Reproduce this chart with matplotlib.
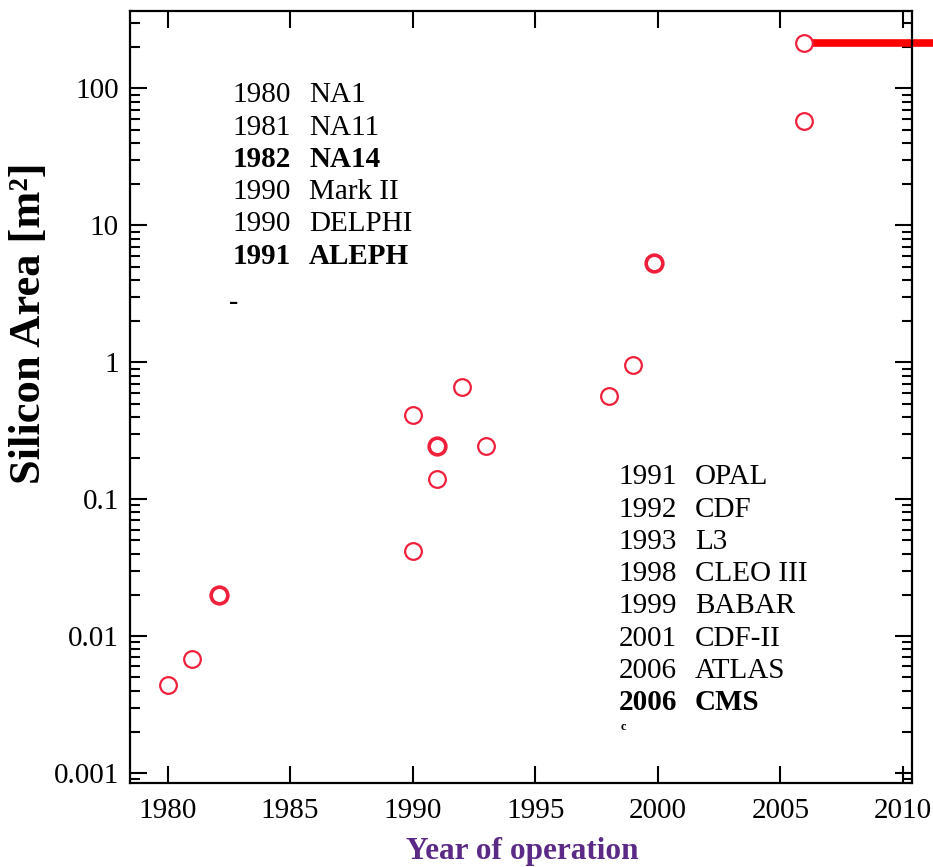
import matplotlib
matplotlib.use("Agg")
import numpy as np
from matplotlib import pyplot as plt
from matplotlib.ticker import LogLocator, NullFormatter, FixedLocator

# data
years = [1980, 1981, 1982.1, 1990, 1990, 1991, 1991, 1992, 1993, 1998, 1999, 1999.85, 2005.95, 2005.95]
areas = [0.0044, 0.0068, 0.020, 0.042, 0.41, 0.245, 0.14, 0.66, 0.245, 0.57, 0.95, 5.3, 58, 215]
heavy = [False, False, True, False, False, True, False, False, False, False, False, True, False, False]

left_years = ["1980", "1981", "1982", "1990", "1990", "1991"]
left_names = ["NA1", "NA11", "NA14", "Mark II", "DELPHI", "ALEPH"]
left_bold = [False, False, True, False, False, True]

right_years = ["1991", "1992", "1993", "1998", "1999", "2001", "2006", "2006"]
right_names = ["OPAL", "CDF", "L3", "CLEO III", "BABAR", "CDF-II", "ATLAS", "CMS"]
right_bold = [False, False, False, False, False, False, False, True]

xticks = [1980, 1985, 1990, 1995, 2000, 2005, 2010]
yticks = [0.001, 0.01, 0.1, 1, 10, 100]
ytick_labels = ["0.001", "0.01", "0.1", "1", "10", "100"]

# red bar off the top point
bar_x = [2005.95, 2011.3]
bar_y = [215, 215]

plt.rcParams["font.family"] = ["Liberation Serif", "DejaVu Serif"]
W, H = 933, 867
fig = plt.figure(figsize=(W / 100, H / 100), dpi=100)
ax = fig.add_axes([130 / W, 1 - 783 / H, 782 / W, 772 / H])

ax.set_yscale("log")
ax.set_xlim(1978.47, 2010.37)
ax.set_ylim(10 ** -3.073, 10 ** 2.566)

red = "#f0203c"
ax.plot(bar_x, bar_y, color="#ff0000", lw=5.5, solid_capstyle="butt", clip_on=False, zorder=2)
for x, y, b in zip(years, areas, heavy):
    ax.plot(x, y, "o", ms=12, mfc="white", mec=red, mew=2.6 if b else 1.6, zorder=3)

ax.xaxis.set_major_locator(FixedLocator(xticks))
ax.set_xticklabels([str(t) for t in xticks])
ax.yaxis.set_major_locator(FixedLocator(yticks))
ax.set_yticklabels(ytick_labels)
ax.yaxis.set_minor_locator(LogLocator(base=10, subs=np.arange(2, 10)))
ax.yaxis.set_minor_formatter(NullFormatter())
ax.tick_params(which="both", direction="in", top=True, right=True, width=1.5, labelsize=21, colors="black")
ax.tick_params(which="major", length=12.5)
ax.tick_params(axis="x", which="major", pad=11)
ax.tick_params(axis="y", which="major", pad=8)
ax.tick_params(which="minor", length=7)
for s in ax.spines.values():
    s.set_linewidth(1.6)

# text blocks
fs = 21
y0 = 0.8817
dy = 0.0418
for i in range(len(left_years)):
    w = "bold" if left_bold[i] else "normal"
    ax.text(0.1313, y0 - i * dy, left_years[i], transform=ax.transAxes, fontsize=fs, weight=w, va="baseline")
    ax.text(0.229, y0 - i * dy, left_names[i], transform=ax.transAxes, fontsize=fs, weight=w, va="baseline")
ax.text(0.132, 0.6227, "-", transform=ax.transAxes, fontsize=20, weight="bold", ha="center", va="center")

y1 = 0.3869
for i in range(len(right_years)):
    w = "bold" if right_bold[i] else "normal"
    ax.text(0.6244, y1 - i * dy, right_years[i], transform=ax.transAxes, fontsize=fs, weight=w, va="baseline")
    ax.text(0.7225, y1 - i * dy, right_names[i], transform=ax.transAxes, fontsize=fs, weight=w, va="baseline")
ax.text(0.6244 + 0.003, y1 - 7 * dy - 0.022, "c", transform=ax.transAxes, fontsize=9, weight="bold", va="center")

fig.text(29 / W, 1 - 323 / H, "Silicon Area [m²]", rotation=90, fontsize=32, weight="bold",
         ha="center", va="center")
fig.text(522 / W, 1 - 851 / H, "Year of operation", fontsize=22.5, weight="bold", color="#5b2a86",
         ha="center", va="center")

fig.savefig("out.png", dpi=100)
